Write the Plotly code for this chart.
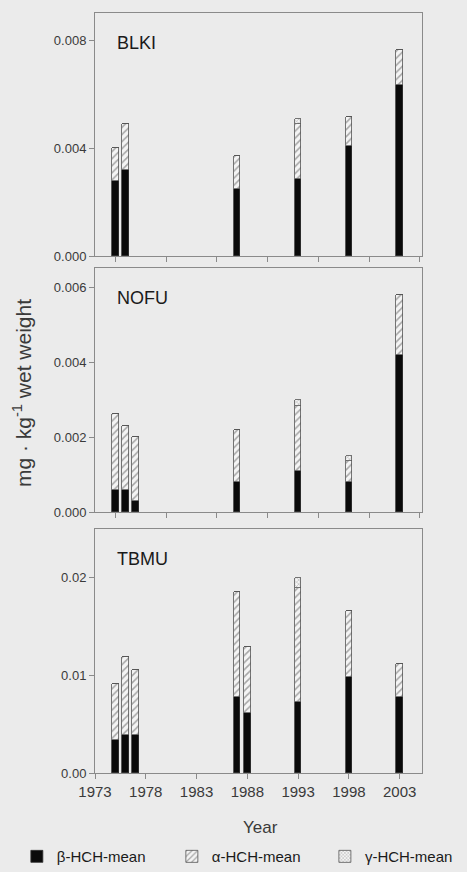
import plotly.graph_objects as go
from plotly.subplots import make_subplots

# ---- data (mg/kg wet weight) ----
blki_years = [1975, 1976, 1987, 1993, 1998, 2003]
blki_beta = [0.00279, 0.00319, 0.00248, 0.00287, 0.00406, 0.00634]
blki_alpha = [0.00121, 0.00171, 0.00123, 0.00202, 0.00111, 0.00130]
blki_gamma = [0.0, 0.0, 0.0, 0.00020, 0.0, 0.0]

nofu_years = [1975, 1976, 1977, 1987, 1993, 1998, 2003]
nofu_beta = [0.00059, 0.00059, 0.00029, 0.00079, 0.00109, 0.00079, 0.00418]
nofu_alpha = [0.00201, 0.00171, 0.00171, 0.00140, 0.00172, 0.00058, 0.00161]
nofu_gamma = [0.0, 0.0, 0.0, 0.0, 0.00018, 0.00012, 0.0]

tbmu_years = [1975, 1976, 1977, 1987, 1988, 1993, 1998, 2003]
tbmu_beta = [0.00340, 0.00391, 0.00391, 0.00782, 0.00619, 0.00724, 0.00986, 0.00782]
tbmu_alpha = [0.00568, 0.00799, 0.00669, 0.01068, 0.00671, 0.01173, 0.00674, 0.00338]
tbmu_gamma = [0.0, 0.0, 0.0, 0.0, 0.0, 0.00100, 0.0, 0.0]

panel_names = ["BLKI", "NOFU", "TBMU"]
series_names = ["β-HCH-mean", "α-HCH-mean", "γ-HCH-mean"]
x_tick_vals = [1973, 1978, 1983, 1988, 1993, 1998, 2003]
x_tick_text = ["1973", "1978", "1983", "1988", "1993", "1998", "2003"]
upper_tick_vals = [1975, 1980, 1985, 1990, 1995, 2000, 2005]

panels = [
    (blki_years, blki_beta, blki_alpha, blki_gamma),
    (nofu_years, nofu_beta, nofu_alpha, nofu_gamma),
    (tbmu_years, tbmu_beta, tbmu_alpha, tbmu_gamma),
]

BG = "#ebebeb"
FONT = "Liberation Sans, Arial, sans-serif"
TXT = "#3a3a3a"
LINE = "#8a8a8a"

fig = make_subplots(rows=3, cols=1, shared_xaxes=False, vertical_spacing=0.0)

bw = 0.65
for i, (yrs, beta, alpha, gamma) in enumerate(panels):
    row = i + 1
    show = (i == 0)
    fig.add_trace(go.Bar(
        x=yrs, y=beta, width=bw, name=series_names[0], legendgroup="b",
        showlegend=show, legend="legend",
        marker=dict(color="#0a0a0a", line=dict(color="#333", width=0.8)),
    ), row=row, col=1)
    fig.add_trace(go.Bar(
        x=yrs, y=alpha, width=bw, name=series_names[1], legendgroup="a",
        showlegend=show, legend="legend2",
        marker=dict(color="#f4f4f4", line=dict(color="#555", width=0.8),
                    pattern=dict(shape="/", fgcolor="#555", bgcolor="#f4f4f4",
                                 size=5, solidity=0.3)),
    ), row=row, col=1)
    fig.add_trace(go.Bar(
        x=yrs, y=gamma, width=bw, name=series_names[2], legendgroup="g",
        showlegend=show, legend="legend3",
        marker=dict(color="#f4f4f4", line=dict(color="#555", width=0.8),
                    pattern=dict(shape="x", fgcolor="#555", bgcolor="#f4f4f4",
                                 size=3, solidity=0.3)),
    ), row=row, col=1)

domains = [(0.680, 1.0), (0.343, 0.664), (0.0, 0.321)]
yranges = [(0, 0.009), (0, 0.0065), (0, 0.025)]
ytickvals = [[0, 0.004, 0.008], [0, 0.002, 0.004, 0.006], [0, 0.01, 0.02]]
yfmt = [".3f", ".3f", ".2f"]

for i in range(3):
    ax = "" if i == 0 else str(i + 1)
    fig.layout["yaxis" + ax].update(
        domain=domains[i], range=list(yranges[i]), tickvals=ytickvals[i],
        tickformat=yfmt[i], ticks="outside", ticklen=5, tickcolor=LINE,
        showline=True, linecolor=LINE, linewidth=1, mirror=True,
        showgrid=False, zeroline=False,
        tickfont=dict(family=FONT, size=13, color=TXT),
    )
    xa = dict(
        range=[1973, 2005.2], ticks="outside", ticklen=5, tickcolor=LINE,
        showline=True, linecolor=LINE, linewidth=1, mirror=True,
        showgrid=False, zeroline=False,
        tickfont=dict(family=FONT, size=15, color=TXT),
    )
    if i < 2:
        xa.update(tickvals=upper_tick_vals, showticklabels=False)
    else:
        xa.update(tickvals=x_tick_vals, ticktext=x_tick_text)
    fig.layout["xaxis" + ax].update(**xa)
    fig.add_annotation(
        text=panel_names[i], xref=("x" + ax + " domain"), yref=("y" + ax + " domain"),
        x=0.06, y=0.877, xanchor="left", yanchor="middle", showarrow=False,
        font=dict(family=FONT, size=18, color="#1a1a1a"),
    )

fig.add_annotation(
    text="mg · kg<sup>-1</sup> wet weight", xref="paper", yref="paper",
    x=-0.223, y=0.5, textangle=-90, showarrow=False, xanchor="center", yanchor="middle",
    font=dict(family=FONT, size=21, color=TXT),
)
fig.add_annotation(
    text="Year", xref="paper", yref="paper", x=0.505, y=-0.072,
    showarrow=False, xanchor="center", yanchor="middle",
    font=dict(family=FONT, size=17, color=TXT),
)

leg_common = dict(orientation="h", xanchor="left", y=-0.11, yanchor="middle",
                  font=dict(family=FONT, size=15, color="#1a1a1a"),
                  bgcolor="rgba(0,0,0,0)")

fig.update_layout(
    width=467, height=872, barmode="stack", bargap=0,
    margin=dict(l=95, r=45, t=13, b=99, autoexpand=False),
    paper_bgcolor=BG, plot_bgcolor=BG,
    font=dict(family=FONT, color=TXT),
    legend=dict(x=-0.239, **leg_common),
    legend2=dict(x=0.235, **leg_common),
    legend3=dict(x=0.703, **leg_common),
)

fig.write_html(
    "out.html",
    config={"displayModeBar": False},
    post_script="document.body.style.margin='0';document.body.style.backgroundColor='#ebebeb';",
)
